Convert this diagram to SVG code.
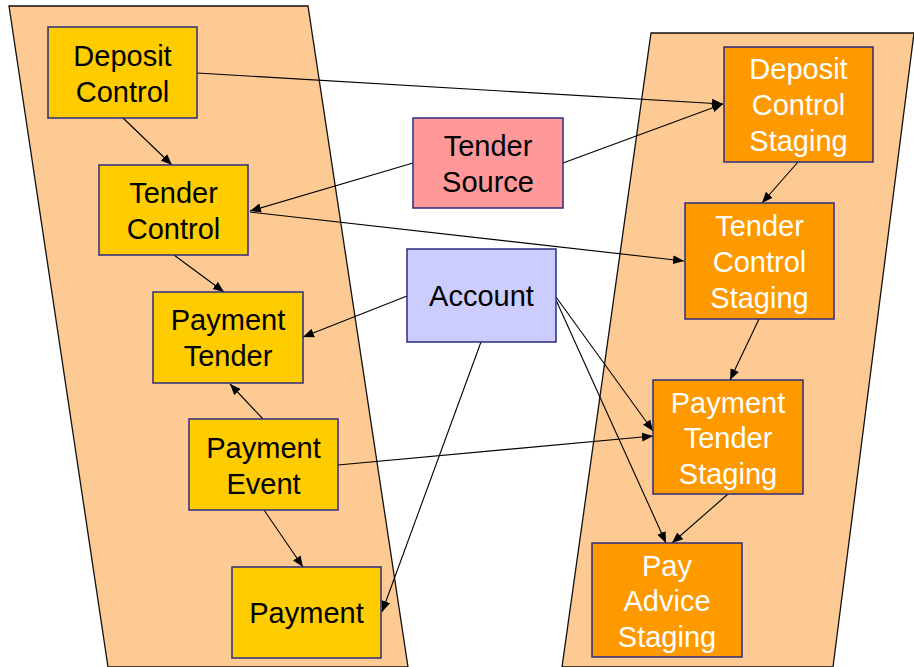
<svg xmlns="http://www.w3.org/2000/svg" width="914" height="667" viewBox="0 0 914 667">
<style>
.band{fill:#FCCA92;stroke:#111;stroke-width:1.3}
.n rect{stroke:#2B2B80;stroke-width:1.5}
.y rect{fill:#FFCC00}
.o rect{fill:#FF9900}
.pk rect{fill:#FF9999}
.bl rect{fill:#CCCCFF}
text{font-family:"Liberation Sans",Arial,sans-serif;font-size:29px;text-anchor:middle}
.y text,.pk text,.bl text{fill:#000}
.o text{fill:#fff}
.c line{stroke:#000;stroke-width:1.1;fill:none}
.c .a{marker-end:url(#ah)}
</style>
<defs>
<marker id="ah" markerUnits="userSpaceOnUse" markerWidth="12" markerHeight="10" refX="11" refY="5" orient="auto">
<path d="M0,0.5 L11,5 L0,9.5 Z" fill="#000"/>
</marker>
</defs>
<polygon class="band" points="9,6 308,6 408,667 108,667"/>
<polygon class="band" points="651,33 914,33 833,667 562,667"/>
<g class="c">
<line class="a" x1="197" y1="73" x2="723" y2="104"/>
<line class="a" x1="123" y1="118" x2="172" y2="165"/>
<line class="a" x1="413" y1="163" x2="250" y2="211"/>
<line class="a" x1="563" y1="163" x2="723" y2="104"/>
<line class="a" x1="250" y1="212" x2="684" y2="261"/>
<line class="a" x1="174" y1="255" x2="224" y2="292"/>
<line class="a" x1="407" y1="296" x2="303" y2="337"/>
<line class="a" x1="263" y1="419" x2="230" y2="384"/>
<line class="a" x1="264" y1="510" x2="303" y2="567"/>
<line class="a" x1="338" y1="465" x2="653" y2="436"/>
<line class="a" x1="481" y1="342" x2="382" y2="612"/>
<line class="a" x1="556" y1="297" x2="653" y2="431"/>
<line class="a" x1="556" y1="300" x2="666" y2="543"/>
<line class="a" x1="798" y1="162" x2="762" y2="203"/>
<line class="a" x1="759" y1="319" x2="730" y2="380"/>
<line class="a" x1="728" y1="494" x2="672" y2="543"/>
</g>
<g id="deposit-control" class="n y"><rect x="48" y="27" width="149" height="91"/><text x="122.5" y="66">Deposit</text><text x="122.5" y="102">Control</text></g>
<g id="tender-control" class="n y"><rect x="99" y="165" width="149" height="90"/><text x="173.5" y="203">Tender</text><text x="173.5" y="239">Control</text></g>
<g id="payment-tender" class="n y"><rect x="153" y="292" width="150" height="91"/><text x="228" y="330">Payment</text><text x="228" y="366">Tender</text></g>
<g id="payment-event" class="n y"><rect x="189" y="419" width="149" height="91"/><text x="263.5" y="458">Payment</text><text x="263.5" y="494">Event</text></g>
<g id="payment" class="n y"><rect x="232" y="567" width="149" height="91"/><text x="306.5" y="623">Payment</text></g>
<g id="tender-source" class="n pk"><rect x="413" y="118" width="150" height="90"/><text x="488" y="156">Tender</text><text x="488" y="192">Source</text></g>
<g id="account" class="n bl"><rect x="407" y="249" width="149" height="93"/><text x="481.5" y="306">Account</text></g>
<g id="deposit-control-staging" class="n o"><rect x="724" y="47" width="149" height="115"/><text x="798.5" y="79">Deposit</text><text x="798.5" y="115">Control</text><text x="798.5" y="151">Staging</text></g>
<g id="tender-control-staging" class="n o"><rect x="685" y="203" width="149" height="116"/><text x="759.5" y="236">Tender</text><text x="759.5" y="272">Control</text><text x="759.5" y="308">Staging</text></g>
<g id="payment-tender-staging" class="n o"><rect x="653" y="380" width="150" height="114"/><text x="728" y="413">Payment</text><text x="728" y="448">Tender</text><text x="728" y="484">Staging</text></g>
<g id="pay-advice-staging" class="n o"><rect x="592" y="543" width="150" height="114"/><text x="667" y="576">Pay</text><text x="667" y="611">Advice</text><text x="667" y="647">Staging</text></g>
</svg>
